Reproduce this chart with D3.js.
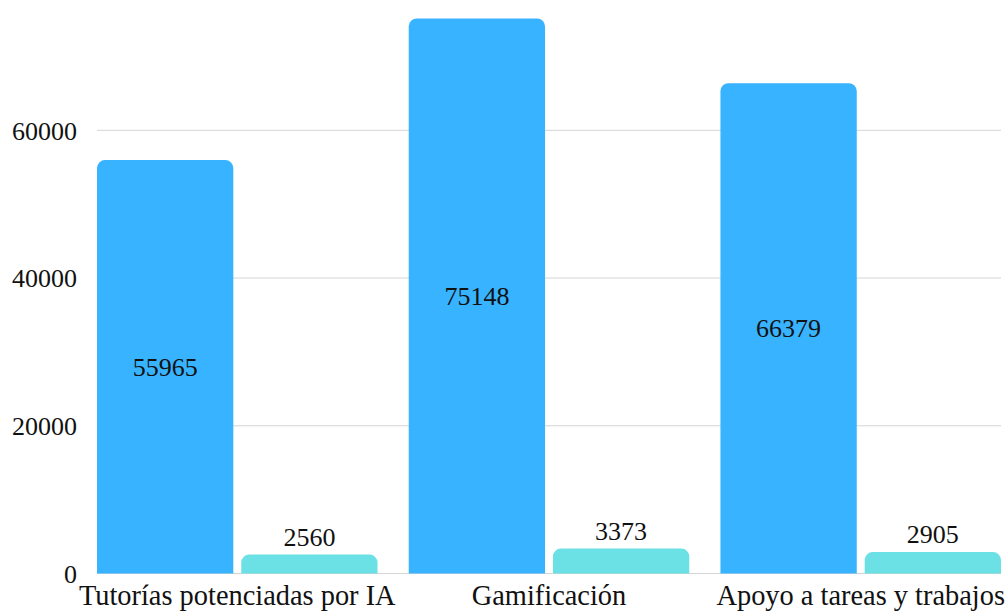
<!DOCTYPE html>
<html><head><meta charset="utf-8">
<script src="https://cdn.jsdelivr.net/npm/d3@7"></script>
<style>html,body{margin:0;padding:0;background:#fff;}svg{display:block;}</style>
</head><body>
<svg id="c" width="1008" height="611"></svg>
<script>
const categories = ["Tutorías potenciadas por IA", "Gamificación", "Apoyo a tareas y trabajos"];
const seriesA = [55965, 75148, 66379];
const seriesB = [2560, 3373, 2905];
const yTicks = [0, 20000, 40000, 60000];
const colors = ["#38B3FF", "#6BE1E6"];

const svg = d3.select("#c");
const left = 97, right = 1001, y0 = 573.5, y60 = 130.3;
const font = "'Liberation Serif','Times New Roman',serif";

const y = d3.scaleLinear().domain([0, 60000]).range([y0, y60]);
const x0 = d3.scaleBand().domain(categories).range([left, right]).paddingInner(0.1).paddingOuter(0);
const x1 = d3.scaleBand().domain([0, 1]).range([0, x0.bandwidth()]).paddingInner(0.055).paddingOuter(0);

// gridlines
svg.append("g").selectAll("line").data(yTicks).join("line")
  .attr("x1", left).attr("x2", right)
  .attr("y1", d => y(d)).attr("y2", d => y(d))
  .attr("stroke", "#d4d4d4").attr("stroke-width", 1);

// y axis labels
const yAxis = d3.axisLeft(y).tickValues(yTicks).tickSize(0).tickPadding(0).tickFormat(d3.format("d"));
const ga = svg.append("g").attr("transform", `translate(${left - 20},0)`).call(yAxis);
ga.select(".domain").remove();
ga.selectAll("text").attr("font-family", font).attr("font-size", 26).attr("fill", "#111").attr("dy", "0.34em");

function topRounded(x, yTop, w, h, r) {
  r = Math.min(r, h, w / 2);
  const p = d3.path();
  p.moveTo(x, yTop + h);
  p.lineTo(x, yTop + r);
  p.arcTo(x, yTop, x + r, yTop, r);
  p.lineTo(x + w - r, yTop);
  p.arcTo(x + w, yTop, x + w, yTop + r, r);
  p.lineTo(x + w, yTop + h);
  p.closePath();
  return p.toString();
}

const data = [];
categories.forEach((c, i) => {
  data.push({c, s: 0, v: seriesA[i]});
  data.push({c, s: 1, v: seriesB[i]});
});

svg.append("g").selectAll("path").data(data).join("path")
  .attr("d", d => topRounded(x0(d.c) + x1(d.s), y(d.v), x1.bandwidth(), y(0) - y(d.v), 8))
  .attr("fill", d => colors[d.s]);

// value labels
svg.append("g").selectAll("text").data(data).join("text")
  .attr("x", d => x0(d.c) + x1(d.s) + x1.bandwidth() / 2)
  .attr("y", d => {
    const h = y(0) - y(d.v);
    return h > 60 ? (y(d.v) + y(0)) / 2 : y(d.v) - 9;
  })
  .attr("dy", d => (y(0) - y(d.v)) > 60 ? "0.34em" : "0")
  .attr("text-anchor", "middle")
  .attr("font-family", font).attr("font-size", 26).attr("fill", "#111")
  .text(d => d.v);

// category labels
svg.append("g").selectAll("text").data(categories).join("text")
  .attr("x", d => x0(d) + x0.bandwidth() / 2)
  .attr("y", 605)
  .attr("text-anchor", "middle")
  .attr("font-family", font).attr("font-size", 28.4).attr("fill", "#111")
  .text(d => d);
</script>
</body></html>
